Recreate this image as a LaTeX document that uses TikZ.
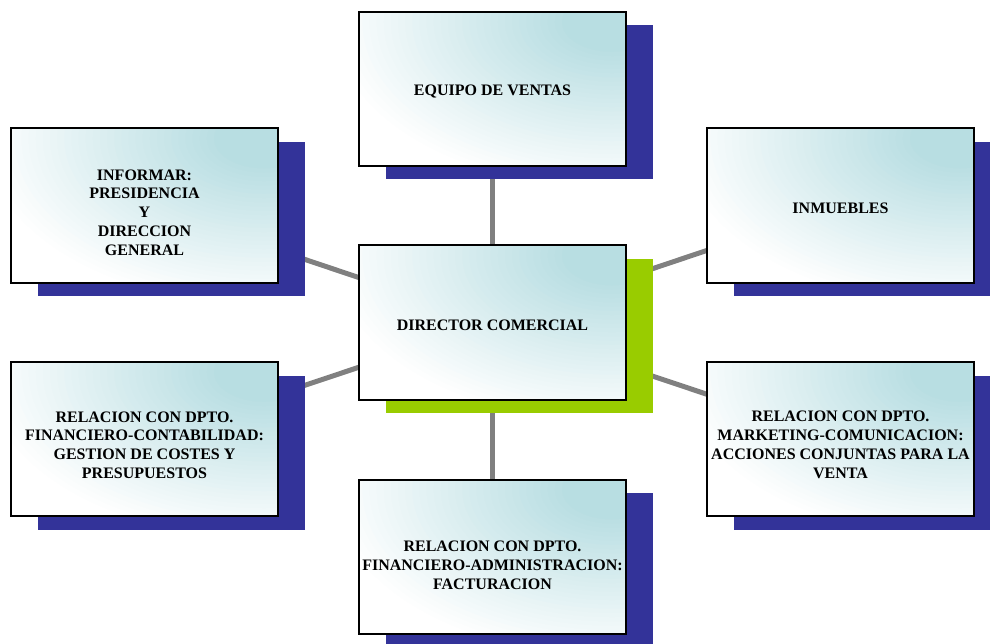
\documentclass[tikz,border=0pt]{standalone}
\usepackage{fontspec}
\setmainfont{Liberation Serif}
\usetikzlibrary{shadows,backgrounds,calc}

\definecolor{panelblue}{HTML}{333399}
\definecolor{panelgreen}{HTML}{99CC00}
\definecolor{linkgrey}{HTML}{808080}
\definecolor{glow}{RGB}{184,222,226}

% stepped cyan glow from the upper right corner of a panel:
% nested ellipses, each one a little smaller and a little more cyan
\newcommand{\panelglow}{%
  \coordinate (glowc) at ([xshift=-14pt,yshift=-10pt]path picture bounding box.north east);
  \foreach \k in {0,...,36}{%
    \pgfmathsetmacro\s{1-\k*0.025}%
    \pgfmathtruncatemacro\p{min(100,\k*100/33)}%
    \pgfmathsetlengthmacro\ra{285pt*\s}%
    \pgfmathsetlengthmacro\rb{170pt*\s}%
    \fill[glow!\p!white] (glowc) ellipse [x radius=\ra, y radius=\rb];
  }}

\begin{document}
\begin{tikzpicture}[x=1pt,y=-1pt,
  panelbase/.style={draw=black, line width=2pt, minimum width=267pt,
    minimum height=154pt, inner sep=0pt, fill=white,
    path picture={\panelglow}},
  panel/.style={panelbase, general shadow={fill=panelblue,
    shadow xshift=27pt, shadow yshift=-13.5pt}},
  hubpanel/.style={panelbase, general shadow={fill=panelgreen,
    shadow xshift=27pt, shadow yshift=-13.5pt}},
  caption/.style={font=\bfseries\fontsize{16}{18.8}\selectfont,
    align=center, inner sep=0pt},
  link/.style={draw=linkgrey, line width=5pt}]

\useasboundingbox (0,0) rectangle (990,644);
\clip (0,0) rectangle (990,644);

% panels
\node[panel]    (eq)  at (492.5,89)    {};
\node[panel]    (inf) at (144.5,205.5) {};
\node[panel]    (inm) at (840.5,205.5) {};
\node[hubpanel] (dir) at (492.5,322.5) {};
\node[panel]    (fin) at (144.5,439)   {};
\node[panel]    (mkt) at (840.5,439)   {};
\node[panel]    (fac) at (492.5,556.5) {};

% captions
\node[caption] (eq-t)  at ($(eq.center)+(0,3)$)  {EQUIPO DE VENTAS};
\node[caption] (inf-t) at ($(inf.center)+(0,7)$) {INFORMAR:\\PRESIDENCIA\\Y\\DIRECCION\\GENERAL};
\node[caption] (inm-t) at ($(inm.center)+(0,3)$) {INMUEBLES};
\node[caption] (dir-t) at ($(dir.center)+(0,3)$) {DIRECTOR COMERCIAL};
\node[caption] (fin-t) at ($(fin.center)+(0,6)$) {RELACION CON DPTO.\\FINANCIERO-CONTABILIDAD:\\GESTION DE COSTES Y\\PRESUPUESTOS};
\node[caption] (mkt-t) at ($(mkt.center)+(0,6)$) {RELACION CON DPTO.\\MARKETING-COMUNICACION:\\ACCIONES CONJUNTAS PARA LA\\VENTA};
\node[caption] (fac-t) at ($(fac.center)+(0,8.5)$) {RELACION CON DPTO.\\FINANCIERO-ADMINISTRACION:\\FACTURACION};

% connectors from the director to every panel, kept behind the panels
\begin{scope}[on background layer]
  \foreach \n in {eq,inf,inm,fin,mkt,fac}
    \draw[link] (dir.center) -- (\n.center);
\end{scope}
\end{tikzpicture}
\end{document}
